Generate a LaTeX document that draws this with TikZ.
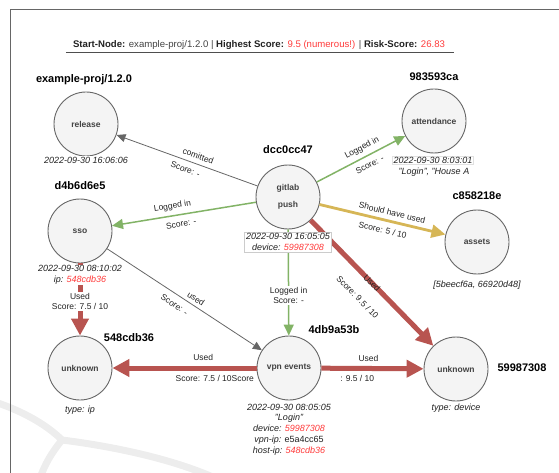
\documentclass[tikz,border=0pt]{standalone}
\usepackage{fontspec}
\setmainfont{Liberation Sans}
\usetikzlibrary{arrows.meta}
\definecolor{nodefill}{HTML}{F4F4F4}
\definecolor{nodeline}{HTML}{666666}
\definecolor{edgegray}{HTML}{666666}
\definecolor{edgegreen}{HTML}{82B366}
\definecolor{edgegold}{HTML}{D6B656}
\definecolor{edgered}{HTML}{B85450}
\definecolor{hot}{HTML}{FF3B3B}
\definecolor{txt}{HTML}{222222}
\definecolor{mark}{HTML}{EDEDED}
\begin{document}
\begin{tikzpicture}[x=1pt,y=-1pt,
  entity/.style={circle, draw=nodeline, fill=nodefill, line width=0.9pt,
    minimum size=64pt, inner sep=0pt, align=center,
    font=\fontsize{8.5}{9}\selectfont\bfseries, text=txt!85},
  idlabel/.style={font=\fontsize{11}{12}\selectfont\bfseries, text=black, inner sep=1pt},
  meta/.style={font=\fontsize{9}{10.8}\selectfont\itshape, text=txt, fill=white,
    inner sep=1pt, align=center},
  elabel/.style={font=\fontsize{8.5}{10}\selectfont, text=txt, inner sep=1.5pt, align=center},
  rel/.style={draw=edgegray, line width=0.8pt, -{Triangle[length=9pt,width=8pt]}},
  login/.style={draw=edgegreen, line width=1.5pt, -{Triangle[length=11pt,width=10pt]}},
  should/.style={draw=edgegold, line width=2.8pt, -{Triangle[length=14pt,width=13pt]}},
  used/.style={draw=edgered, line width=5pt, -{Triangle[length=17pt,width=17pt]}},
  watermark/.style={draw=mark, line width=7pt, line cap=round},
]
\useasboundingbox (0,0) rectangle (559,473);

% faint background strokes
\draw[watermark] (-5,402) .. controls (25,412) and (48,426) .. (62,440);
\draw[watermark] (62,440) .. controls (52,452) and (45,464) .. (40,478);
\draw[watermark] (62,440) .. controls (110,446) and (170,458) .. (215,478);

% frame
\draw[draw=nodeline, line width=0.8pt] (10,478) -- (10,9.5) -- (565,9.5);

% summary line
\node[font=\fontsize{9.6}{11}\selectfont, text=txt!85, inner sep=1pt] (header) at (259,45)
  {\textbf{\color{txt}Start-Node:} example-proj/1.2.0 |
   \textbf{\color{txt}Highest Score:} \textcolor{hot}{9.5 (numerous!)} |
   \textbf{\color{txt}Risk-Score:} \textcolor{hot}{26.83}};
\draw[draw=txt!80, line width=1.3pt] ([xshift=-6pt,yshift=-1.5pt]header.south west)
  -- ([xshift=8pt,yshift=-1.5pt]header.south east);

% entities
\node[entity] (release) at (86,124) {release};
\node[entity] (gitlab) at (288,197) {gitlab\\[8pt]push};
\node[entity] (attendance) at (434,121) {attendance};
\node[entity] (sso) at (80,231) {sso};
\node[entity] (assets) at (477,242) {assets};
\node[entity] (ip) at (80,368) {unknown};
\node[entity] (vpn) at (289,368) {vpn events};
\node[entity] (device) at (456,369) {unknown};

% identifiers
\node[idlabel] (releaseid) at (84,80) {example-proj/1.2.0};
\node[idlabel] (gitlabid) at (288,150) {dcc0cc47};
\node[idlabel] (attendanceid) at (434,77) {983593ca};
\node[idlabel] (ssoid) at (80,186) {d4b6d6e5};
\node[idlabel] (assetsid) at (477,196) {c858218e};
\node[idlabel] (ipid) at (129,338) {548cdb36};
\node[idlabel] (vpnid) at (334,330) {4db9a53b};
\node[idlabel] (deviceid) at (522,368) {59987308};

% relations
\draw[rel] (gitlab) -- node[elabel, sloped, above=3pt, pos=0.44] {comitted}
  node[elabel, sloped, below=4pt, pos=0.49] {Score: -} (release);
\draw[login] (gitlab) -- node[elabel, sloped, above=3pt, pos=0.56] {Logged in}
  node[elabel, sloped, below=4pt, pos=0.55] {Score: -} (attendance);
\draw[login] (gitlab) -- node[elabel, sloped, above=3pt, pos=0.57] {Logged in}
  node[elabel, sloped, below=4pt, pos=0.53] {Score: -} (sso);
\draw[should] (gitlab) -- node[elabel, sloped, above=3pt, pos=0.56] {Should have used}
  node[elabel, sloped, below=4pt, pos=0.52] {Score: 5 / 10} (assets);
\draw[used] (gitlab) -- node[elabel, sloped, pos=0.5] {Used}
  node[elabel, sloped, below=13pt, pos=0.5] {Score: 9.5 / 10} (device);
\draw[login] (gitlab) -- node[elabel, fill=white, pos=0.62] {Logged in\\Score: -} (vpn);
\draw[rel] (sso) -- node[elabel, sloped, above=2pt, pos=0.55] {used}
  node[elabel, sloped, below=5pt, pos=0.47] {Score: -} (vpn);
\draw[used] (sso) -- node[elabel, fill=white, pos=0.53] {Used\\Score: 7.5 / 10} (ip);
\draw[used] (vpn) -- node[elabel, above=3pt, pos=0.37] {Used}
  node[elabel, below=3pt, pos=0.29] {Score: 7.5 / 10Score} (ip);
\draw[used] (vpn) -- node[elabel, above=3pt, pos=0.46] {Used}
  node[elabel, below=3pt, pos=0.35] {: 9.5 / 10} (device);

% details under the entities
\node[meta] (releasemeta) at (86,160) {2022-09-30 16:06:06};
\node[meta, draw=black!20, line width=0.6pt, inner sep=1.5pt] (gitlabmeta) at (288,242)
  {2022-09-30 16:05:05\\device: \textcolor{hot}{59987308}};
\node[meta, draw=black!12, line width=0.5pt] (attendancedate) at (433,160) {2022-09-30 8:03:01};
\node[meta] (attendancemeta) at (434,172) {"Login", "House A};
\node[meta] (ssometa) at (80,275) {2022-09-30 08:10:02\\ip: \textcolor{hot}{548cdb36}};
\node[meta] (assetsmeta) at (477,285) {[5beecf6a, 66920d48]};
\node[meta] (ipmeta) at (80,410) {type: ip};
\node[meta] (vpnmeta) at (289,429.5) {2022-09-30 08:05:05\\"Login"\\
  device: \textcolor{hot}{59987308}\\vpn-ip: {\upshape e5a4cc65}\\
  host-ip: \textcolor{hot}{548cdb36}};
\node[meta] (devicemeta) at (456,408) {type: device};
\end{tikzpicture}
\end{document}
